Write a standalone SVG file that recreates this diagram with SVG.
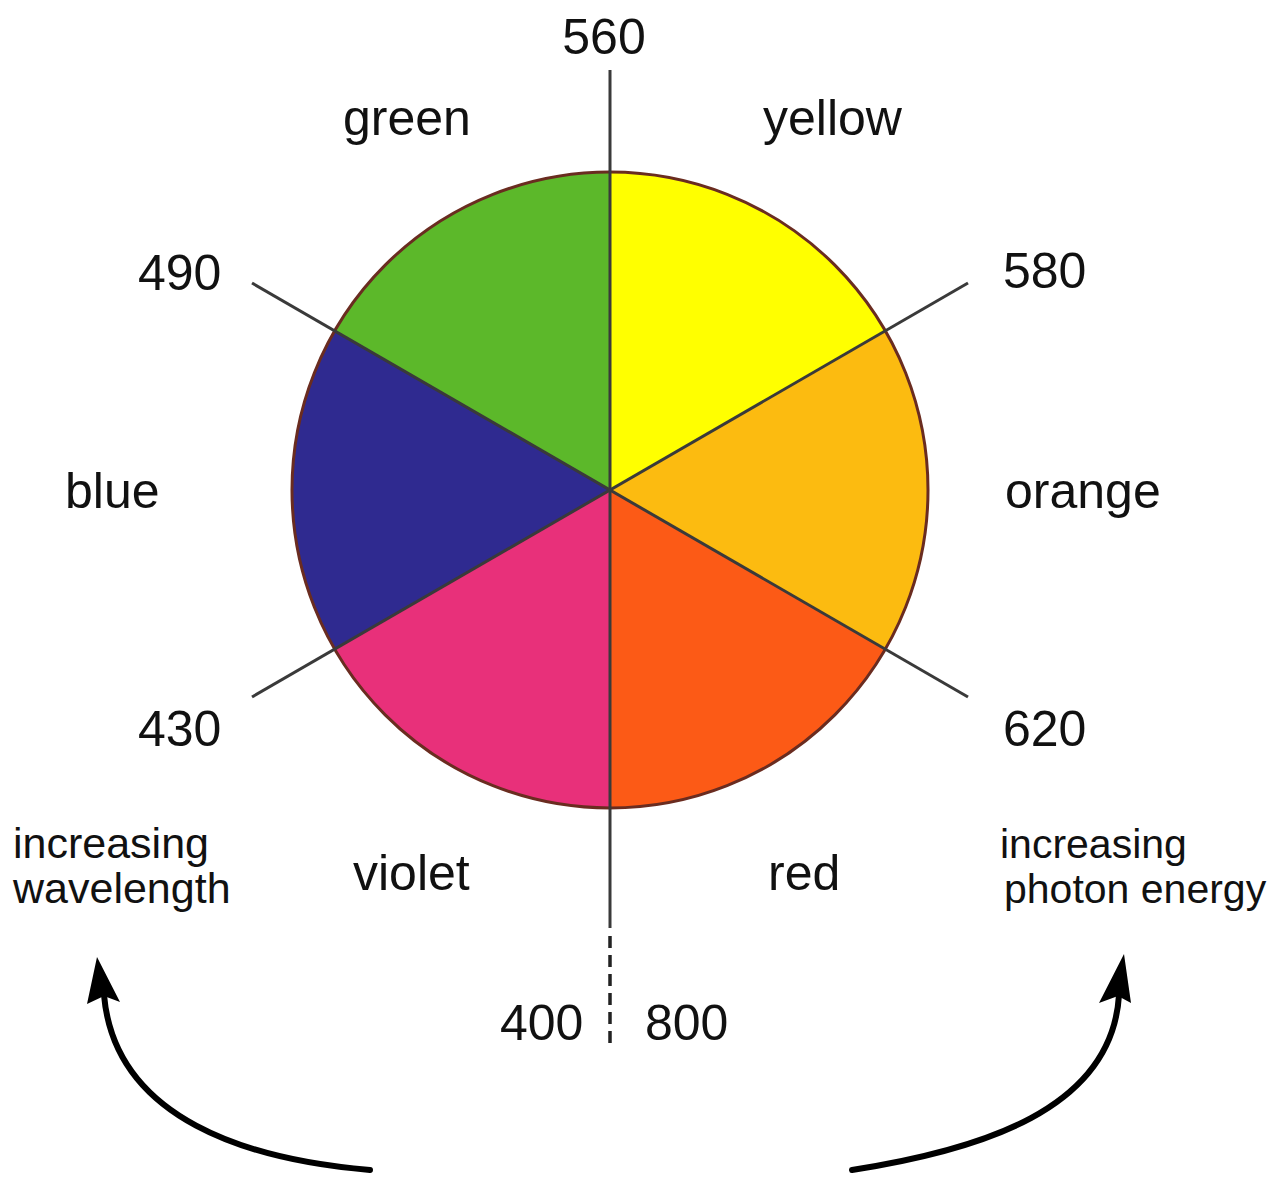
<svg xmlns="http://www.w3.org/2000/svg" width="1282" height="1180" viewBox="0 0 1282 1180">
<defs>
<style>
.lbl{font-family:"Liberation Sans",Arial,sans-serif;font-size:50px;fill:#111}
.sm{font-family:"Liberation Sans",Arial,sans-serif;font-size:43px;fill:#111}
.sm2{font-family:"Liberation Sans",Arial,sans-serif;font-size:41px;fill:#111}
.axis{stroke:#3a3a3a;stroke-width:3;fill:none}
.wedge{stroke:none}
.arr{stroke:#000;stroke-width:6;fill:none;stroke-linecap:round}
.head{fill:#000;stroke:none}
</style>
</defs>
<rect width="1282" height="1180" fill="#fff"/>
<g id="wheel">
<path id="yellow-wedge" class="wedge" d="M610,490 L610,172 A318,318 0 0 1 885.4,331 Z" fill="#ffff00"/>
<path id="orange-wedge" class="wedge" d="M610,490 L885.4,331 A318,318 0 0 1 885.4,649 Z" fill="#fcbb10"/>
<path id="red-wedge" class="wedge" d="M610,490 L885.4,649 A318,318 0 0 1 610,808 Z" fill="#fc5a16"/>
<path id="violet-wedge" class="wedge" d="M610,490 L610,808 A318,318 0 0 1 334.6,649 Z" fill="#e8307a"/>
<path id="blue-wedge" class="wedge" d="M610,490 L334.6,649 A318,318 0 0 1 334.6,331 Z" fill="#2f2a90"/>
<path id="green-wedge" class="wedge" d="M610,490 L334.6,331 A318,318 0 0 1 610,172 Z" fill="#5cb82a"/>
<circle cx="610" cy="490" r="318" fill="none" stroke="#6a2c20" stroke-width="3"/>
</g>
<g id="connectors">
<line class="axis" x1="610" y1="70" x2="610" y2="928"/>
<line x1="610" y1="936" x2="610" y2="1050" stroke="#222" stroke-width="3.5" stroke-dasharray="12,7"/>
<line class="axis" x1="252" y1="283" x2="968" y2="697"/>
<line class="axis" x1="252" y1="697" x2="968" y2="283"/>
<path class="arr" d="M370,1170 C250,1160 115,1120 104,995"/>
<path class="head" d="M97,957 L120,1002 L104,996 L87,1004 Z"/>
<path class="arr" d="M852,1170 C980,1150 1112,1110 1119,995"/>
<path class="head" d="M1124,954 L1131,1003 L1118,996 L1099,1003 Z"/>
</g>
<g id="labels">
<text class="lbl" x="604" y="54" text-anchor="middle">560</text>
<text class="lbl" x="343" y="135">green</text>
<text class="lbl" x="763" y="135">yellow</text>
<text class="lbl" x="138" y="290">490</text>
<text class="lbl" x="1003" y="288">580</text>
<text class="lbl" x="65" y="508">blue</text>
<text class="lbl" x="1005" y="508">orange</text>
<text class="lbl" x="138" y="746">430</text>
<text class="lbl" x="1003" y="746">620</text>
<text class="lbl" x="353" y="890" fill="#555">violet</text>
<text class="lbl" x="768" y="890">red</text>
<text class="lbl" x="500" y="1040">400</text>
<text class="lbl" x="645" y="1040">800</text>
<text class="sm" x="13" y="858">increasing</text>
<text class="sm" x="13" y="903">wavelength</text>
<text class="sm2" x="1000" y="858">increasing</text>
<text class="sm2" x="1004" y="903">photon energy</text>
</g>
</svg>
